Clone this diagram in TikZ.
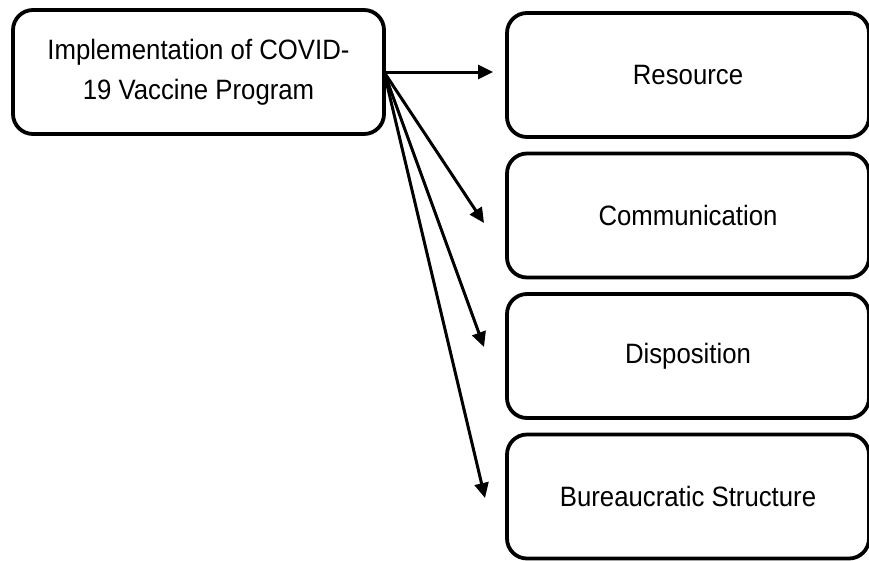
\documentclass[tikz,border=0pt]{standalone}
\usepackage{fontspec}
\setmainfont{Liberation Sans}[FakeStretch=0.92]
\usepackage{tikz}
\usetikzlibrary{
  arrows.meta,
  positioning,
  calc
}

\begin{document}
\begin{tikzpicture}[x=1pt, y=1pt,
    every node/.style={font=\fontsize{28pt}{40pt}\selectfont},
    box/.style={draw, line width=3.8pt, rounded corners=20pt, outer sep=0pt, align=center},
    factor/.style={box, minimum width=362pt, minimum height=124pt},
    link/.style={line width=3pt, -{Triangle[length=15pt, width=14pt]}}]
            \useasboundingbox (0,0) rectangle (869,-560);

            % Program box
            \node[box, minimum width=371pt, minimum height=124pt] (prog) at (198.5,-72) {Implementation of COVID-\\19 Vaccine Program};

            % Factor boxes
            \node[factor] (res) at (688,-75) {Resource};
            \node[factor, below=16.5pt of res] (com) {Communication};
            \node[factor, below=16.5pt of com] (dis) {Disposition};
            \node[factor, below=16.5pt of dis] (bur) {Bureaucratic Structure};

            % Arrow ends
            \coordinate (t1) at ($(prog.east -| res.west)+(-14,0)$);
            \coordinate (t2) at (484,-223);
            \coordinate (t3) at (484,-347);
            \coordinate (t4) at (485,-498);

            % Connectors
            \draw[link] (prog.east) -- (t1);
            \draw[link] (prog.east) -- (t2);
            \draw[link] (prog.east) -- (t3);
            \draw[link] (prog.east) -- (t4);
        \end{tikzpicture}
\end{document}
